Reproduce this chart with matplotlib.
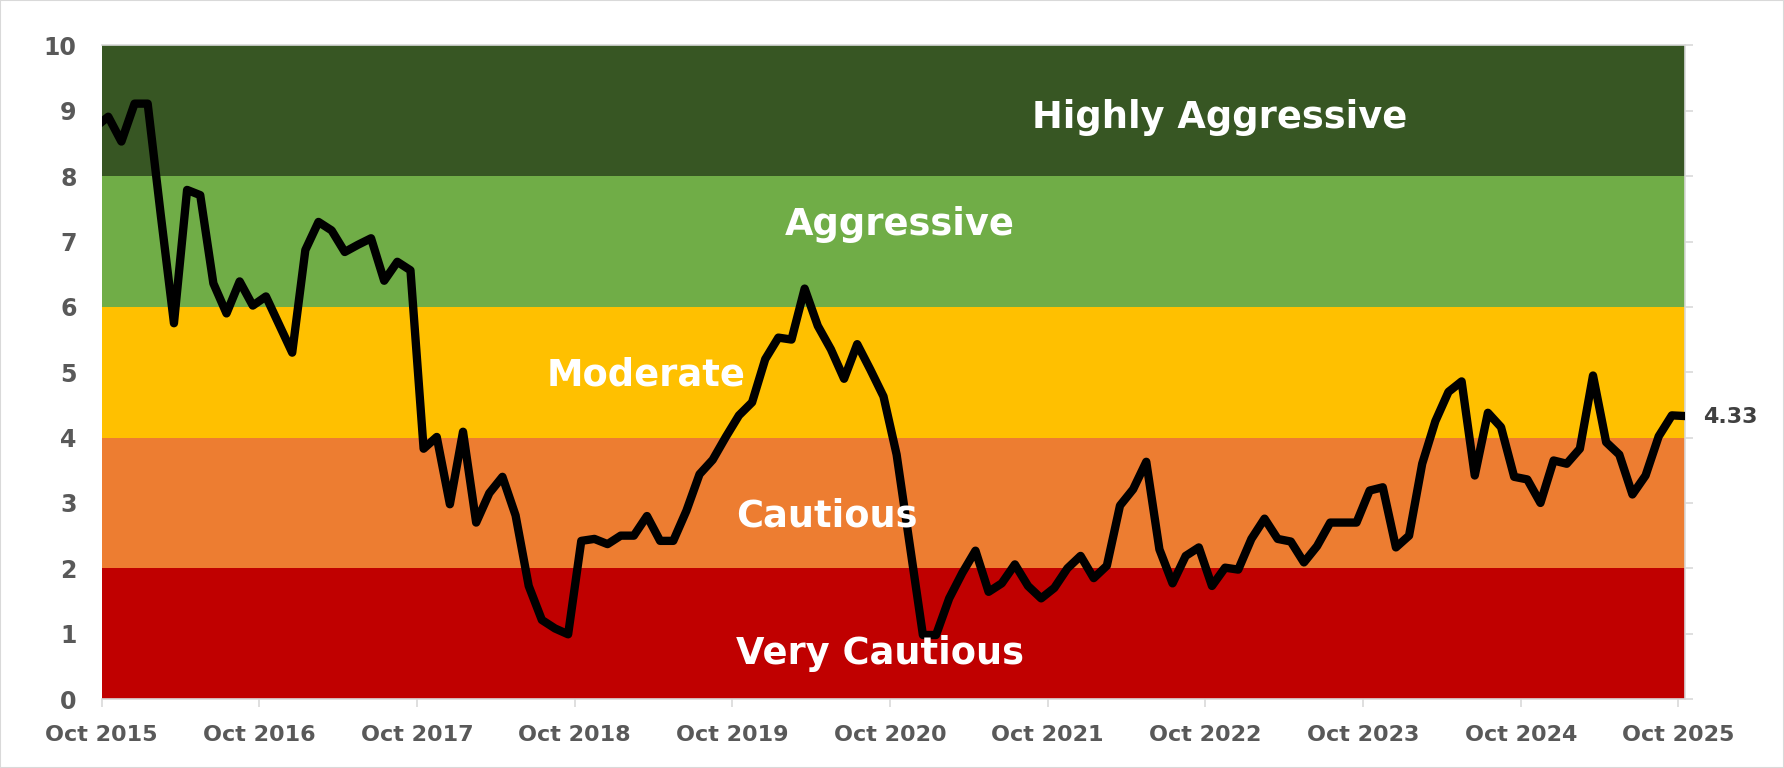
import numpy as np
import matplotlib
matplotlib.use("Agg")
import matplotlib.pyplot as plt
from matplotlib.patches import Rectangle

# monthly readings, first value is Sep 2015, last is Oct 2025
start_month = "Sep 2015"
values = [
    8.75, 8.91, 8.53, 9.11, 9.11, 7.40, 5.75, 7.79, 7.71, 6.36,
    5.90, 6.39, 6.02, 6.16, 5.73, 5.30, 6.87, 7.30, 7.17, 6.84,
    6.95, 7.05, 6.40, 6.69, 6.56, 3.83, 4.01, 2.98, 4.09, 2.70,
    3.15, 3.40, 2.81, 1.73, 1.21, 1.08, 0.99, 2.42, 2.45, 2.37,
    2.50, 2.50, 2.80, 2.42, 2.42, 2.88, 3.44, 3.66, 4.01, 4.34,
    4.54, 5.20, 5.53, 5.50, 6.28, 5.71, 5.35, 4.90, 5.43, 5.04,
    4.63, 3.74, 2.36, 0.98, 0.98, 1.54, 1.93, 2.27, 1.64, 1.77,
    2.06, 1.73, 1.54, 1.70, 2.00, 2.19, 1.85, 2.04, 2.96, 3.21,
    3.63, 2.29, 1.77, 2.19, 2.32, 1.73, 2.01, 1.98, 2.45, 2.76,
    2.45, 2.41, 2.09, 2.34, 2.70, 2.70, 2.70, 3.19, 3.24, 2.32,
    2.50, 3.60, 4.25, 4.70, 4.86, 3.42, 4.38, 4.16, 3.40, 3.36,
    3.00, 3.65, 3.60, 3.83, 4.95, 3.93, 3.74, 3.13, 3.42, 4.02,
    4.34, 4.33,
]

tick_labels = ["Oct 2015", "Oct 2016", "Oct 2017", "Oct 2018", "Oct 2019", "Oct 2020",
               "Oct 2021", "Oct 2022", "Oct 2023", "Oct 2024", "Oct 2025"]

band_names = ["Very Cautious", "Cautious", "Moderate", "Aggressive", "Highly Aggressive"]
band_lows = [0, 2, 4, 6, 8]
band_highs = [2, 4, 6, 8, 10]
band_colors = ["#C00000", "#ED7D31", "#FFC000", "#70AD47", "#375623"]
# where each band name sits (month index, value)
label_x = [59.2, 55.2, 41.4, 60.7, 85.1]
label_y = [0.70, 2.80, 4.96, 7.26, 8.9]

fig = plt.figure(figsize=(17.84, 7.68), dpi=100)
ax = fig.add_axes([0.057, 0.0898, 0.8875, 0.851])

# coloured zones
for lo, hi, c in zip(band_lows, band_highs, band_colors):
    ax.axhspan(lo, hi, color=c, zorder=0, lw=0)

# zone names sit on top of the line
for name, x, y in zip(band_names, label_x, label_y):
    ax.text(x, y, name, ha="center", va="center", color="white",
            fontsize=26.5, fontweight="bold", zorder=4)

# values are plotted at mid-month, x=0 is the start of Oct 2015
x = np.arange(len(values)) - 0.5
ax.plot(x, values, color="black", lw=6, solid_joinstyle="round",
        solid_capstyle="round", zorder=3)

ax.annotate(f"{values[-1]:.2f}", xy=(x[-1], values[-1]), xytext=(13, -1),
            textcoords="offset points", ha="left", va="center",
            fontsize=16, fontweight="bold", color="#404040", annotation_clip=False)

ax.set_xlim(0, 120.5)
ax.set_ylim(0, 10)
ax.set_xticks(np.arange(0, 121, 12))
ax.set_xticklabels(tick_labels)
ax.set_yticks(range(0, 11))

ax.tick_params(axis="x", length=6, width=1.2, color="#D9D9D9", pad=13,
               labelsize=16, labelcolor="#595959")
ax.tick_params(axis="y", left=False, right=True, length=6, width=1.2,
               color="#D9D9D9", pad=12, labelsize=17, labelcolor="#595959")
for lbl in ax.get_xticklabels() + ax.get_yticklabels():
    lbl.set_fontweight("bold")

ax.spines["left"].set_visible(False)
for s in ["top", "right", "bottom"]:
    ax.spines[s].set_color("#D9D9D9")
    ax.spines[s].set_linewidth(1.2)

# thin frame round the whole picture
fig.patches.append(Rectangle((0, 0), 1, 1, transform=fig.transFigure,
                             fill=False, edgecolor="#D9D9D9", lw=1.5))

fig.savefig("out.png", dpi=100)
